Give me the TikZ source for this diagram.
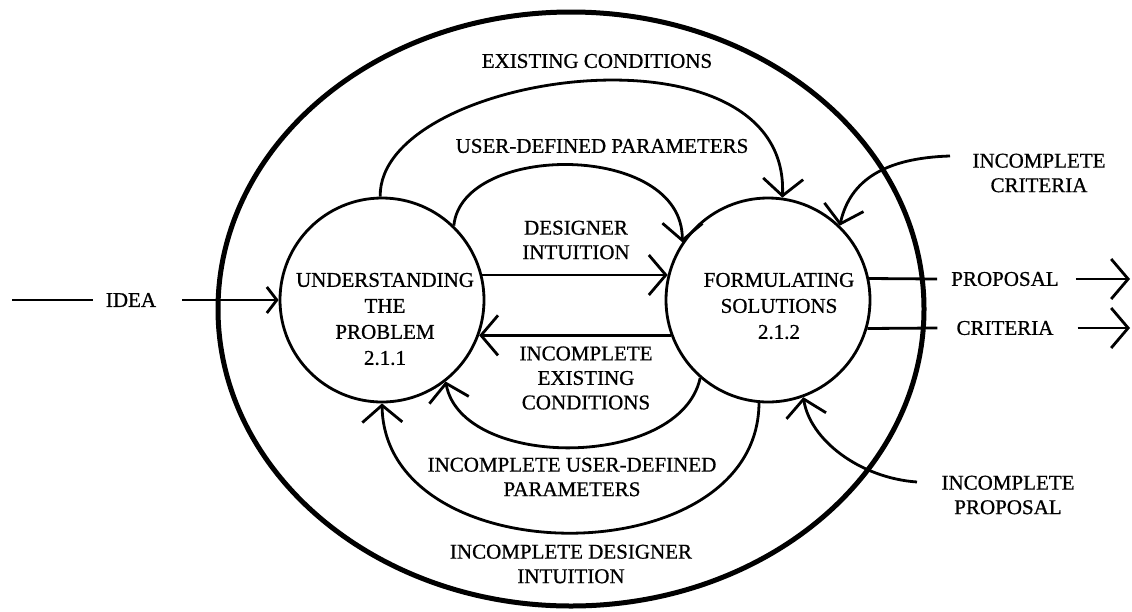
\documentclass[tikz,border=0pt]{standalone}
\usepackage{fontspec}
\setmainfont[FakeBold=0.8,AutoFakeBold=0.8]{Liberation Serif}
\usetikzlibrary{arrows.meta}
\begin{document}
\begin{tikzpicture}[x=1pt,y=-1pt,
  lbl/.style={font=\fontsize{21}{24.5}\selectfont\bfseries, align=center, inner sep=0pt},
  ptext/.style={font=\fontsize{21}{26}\selectfont\bfseries, align=center, inner sep=0pt},
  proc/.style={circle, draw, line width=2.8pt, minimum size=204pt, inner sep=0pt},
  flow/.style={line width=2.8pt},
  barb/.style={-{Straight Barb[length=17pt,width=40pt]}},
  smallbarb/.style={-{Straight Barb[length=10pt,width=26pt]}},
  boundary/.style={line width=5pt}
]
\useasboundingbox (0,0) rectangle (1132,611);
% outer boundary
\draw[boundary] (571,309) ellipse [x radius=353, y radius=297];
% processes
\node[proc] (U) at (382,300) {};
\node[proc] (F) at (768,300) {};
\node[ptext] (Ut) at (385,319) {UNDERSTANDING\\THE\\PROBLEM\\2.1.1};
\node[ptext] (Ft) at (779,306) {FORMULATING\\SOLUTIONS\\2.1.2};
% labels
\node[lbl] (exc) at (597,61) {EXISTING CONDITIONS};
\node[lbl] (udp) at (602,146) {USER-DEFINED PARAMETERS};
\node[lbl] (di) at (576,240) {DESIGNER\\INTUITION};
\node[lbl] (iec) at (586,378) {INCOMPLETE\\EXISTING\\CONDITIONS};
\node[lbl] (iudp) at (572,477) {INCOMPLETE USER-DEFINED\\PARAMETERS};
\node[lbl] (idi) at (571,564) {INCOMPLETE DESIGNER\\INTUITION};
\node[lbl] (idea) at (131,300) {IDEA};
\node[lbl] (prop) at (1005,279) {PROPOSAL};
\node[lbl] (crit) at (1005,328) {CRITERIA};
\node[lbl] (ict) at (1039,173) {INCOMPLETE\\CRITERIA};
\node[lbl] (ipt) at (1008,495) {INCOMPLETE\\PROPOSAL};
% free ends
\coordinate (i0) at (12,300);
\coordinate (ic0) at (950,156);
\coordinate (ip0) at (917,482);
\coordinate (pout) at (1130,279);
\coordinate (cout) at (1130,328);
% idea input
\draw[flow] (i0) -- ([xshift=-13pt]idea.west);
\draw[flow,smallbarb] ([xshift=26pt]idea.east) -- (U.180);
% forward flows
\draw[flow,barb] (U.91) .. controls (378,72) and (790,14) .. (F.82);
\draw[flow,barb] (U.46) .. controls (462,142) and (683,142) .. (F.146);
\draw[flow,barb] (U.14) -- (F.166);
% feedback flows
\draw[flow,barb] (F.200) -- (U.-20);
\draw[flow,barb] (F.229) .. controls (680,470) and (462,470) .. (U.-52);
\draw[flow,barb] (F.265) .. controls (758,576) and (385,576) .. (U.270);
% external inputs
\draw[flow,barb] (ic0) .. controls (885,158) and (850,180) .. (F.46);
\draw[flow,barb] (ip0) .. controls (860,478) and (810,440) .. (F.-70);
% outputs
\draw[flow] (F.12) -- ([xshift=-14pt]prop.west);
\draw[flow,barb] ([xshift=17pt]prop.east) -- (pout);
\draw[flow] (F.-16) -- ([xshift=-19pt]crit.west);
\draw[flow,barb] ([xshift=24pt]crit.east) -- (cout);
\end{tikzpicture}
\end{document}
